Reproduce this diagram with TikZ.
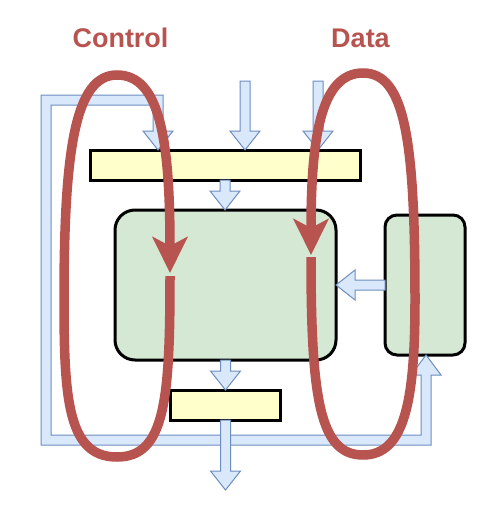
\documentclass[tikz,border=0pt]{standalone}
\usepackage{fontspec}
\setmainfont{Liberation Sans}
\usetikzlibrary{arrows.meta}
\definecolor{yfill}{HTML}{FFFFCC}
\definecolor{gfill}{HTML}{D5E8D4}
\definecolor{bfill}{HTML}{DAE8FC}
\definecolor{bline}{HTML}{6C8EBF}
\definecolor{rline}{HTML}{B85450}
\tikzset{
  bar/.style={draw=black, line width=3pt, fill=yfill, minimum height=30pt, inner sep=0pt},
  gbox/.style={draw=black, line width=3pt, fill=gfill, inner sep=0pt},
  blockarrow/.style={draw=bline, fill=bfill, line width=1pt, line join=miter},
  loopline/.style={draw=rline, line width=9.5pt, -{Stealth[length=36pt,width=35pt,inset=9pt]}},
  lbl/.style={text=rline, font=\bfseries\fontsize{27}{31}\selectfont, anchor=base, inner sep=0pt}
}
\newcommand\dnarrow[3]{\draw[blockarrow] (#1-5,#2) -- (#1-5,#3-19) -- (#1-15,#3-19) -- (#1,#3) -- (#1+15,#3-19) -- (#1+5,#3-19) -- (#1+5,#2) -- cycle;}
\begin{document}
\begin{tikzpicture}[x=1pt,y=-1pt]
\useasboundingbox (0,0) rectangle (487,511);
% boxes
\node[bar, minimum width=270pt] (topbar) at (225,165) {};
\node[gbox, rounded corners=20pt, minimum width=221pt, minimum height=150pt] (main) at (225.5,285) {};
\node[gbox, rounded corners=12pt, minimum width=80pt, minimum height=140pt] (side) at (425,285) {};
\node[bar, minimum width=110pt] (botbar) at (225,405) {};
% feedback pipe
\draw[blockarrow] (426,355) -- (441,375) -- (431,375) -- (431,445) -- (41,445) -- (41,95) -- (163,95) -- (163,131)
  -- (173,131) -- (158,150) -- (143,131) -- (153,131) -- (153,105) -- (51,105) -- (51,435) -- (421,435) -- (421,375) -- (411,375) -- cycle;
% block arrows
\dnarrow{245}{81}{150}
\dnarrow{318}{81}{150}
\dnarrow{225}{180}{210}
\dnarrow{225.5}{360}{390}
\dnarrow{225.5}{420}{490}
\draw[blockarrow] (385,280) -- (355,280) -- (355,270) -- (336,285) -- (355,300) -- (355,290) -- (385,290) -- cycle;
% labels
\node[lbl] (ctl) at (120.5,48) {Control};
\node[lbl] (dat) at (360.5,48) {Data};
% red loops
\coordinate (c1) at (170,276);
\coordinate (c2) at (170,273);
\draw[loopline] (c1) .. controls (170,400) and (165,457) .. (117,457)
  .. controls (68,457) and (64,400) .. (64,300)
  .. controls (64,150) and (75,75) .. (117,75)
  .. controls (160,75) and (170,140) .. (c2);
\coordinate (d1) at (311,257);
\coordinate (d2) at (311,255);
\draw[loopline] (d1) .. controls (311,400) and (320,455) .. (363,455)
  .. controls (405,455) and (415,400) .. (415,300)
  .. controls (415,140) and (405,73) .. (363,73)
  .. controls (320,73) and (311,140) .. (d2);
\end{tikzpicture}
\end{document}
